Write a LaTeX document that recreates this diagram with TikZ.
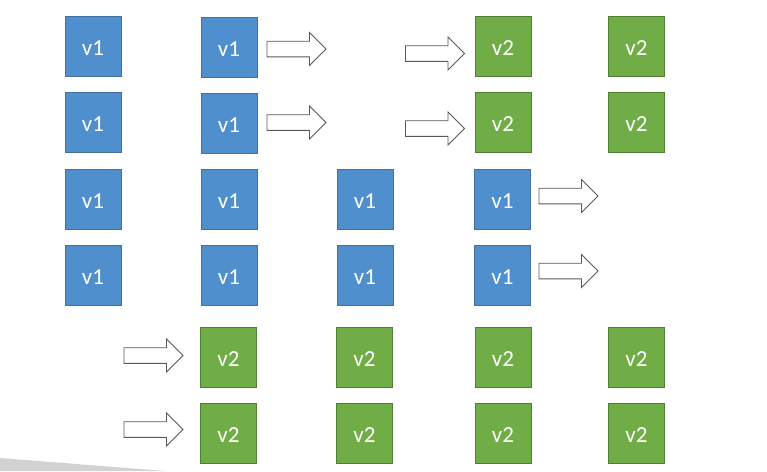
\documentclass[tikz,border=0pt]{standalone}
\usepackage{fontspec}
\setmainfont{Carlito}
\definecolor{bluefill}{HTML}{4F8FCE}
\definecolor{blueline}{HTML}{41719C}
\definecolor{greenfill}{HTML}{70AD47}
\definecolor{greenline}{HTML}{507E32}
\definecolor{arrline}{HTML}{595959}
\tikzset{
  vbox/.style={minimum width=56pt, minimum height=60pt, inner sep=0pt, line width=1pt,
    text=white, font=\fontsize{23}{25}\selectfont, text height=18.5pt, text depth=0pt},
  vone/.style={vbox, draw=blueline, fill=bluefill},
  vtwo/.style={vbox, draw=greenline, fill=greenfill},
  arrowline/.style={draw=arrline, fill=white, line width=0.9pt, line join=miter},
  barrow/.pic={\draw[arrowline] (0,-7.8) -- (42.5,-7.8) -- (42.5,-16.5) -- (59,0) -- (42.5,16.5) -- (42.5,7.8) -- (0,7.8) -- cycle;}
}
\begin{document}
\begin{tikzpicture}[x=1pt,y=-1pt]
\useasboundingbox (0,0) rectangle (767,471);
\fill[white] (0,0) rectangle (767,471);
% gray wedge bottom-left
\fill[gray!35] (0,458) -- (165,471) -- (0,471) -- cycle;
% row 1
\node[vone] (r1c1) at (93,46) {v1};
\node[vone] (r1c2) at (229,47) {v1};
\node[vtwo] (r1c4) at (503,46) {v2};
\node[vtwo] (r1c5) at (636.5,46) {v2};
% row 2
\node[vone] (r2c1) at (93,122) {v1};
\node[vone] (r2c2) at (229,123.5) {v1};
\node[vtwo] (r2c4) at (503,122) {v2};
\node[vtwo] (r2c5) at (636.5,122) {v2};
% row 3
\node[vone] (r3c1) at (93,199) {v1};
\node[vone] (r3c2) at (229,199) {v1};
\node[vone] (r3c3) at (365,199) {v1};
\node[vone] (r3c4) at (502.5,199) {v1};
% row 4
\node[vone] (r4c1) at (93,275) {v1};
\node[vone] (r4c2) at (229,275) {v1};
\node[vone] (r4c3) at (365,275) {v1};
\node[vone] (r4c4) at (502.5,275) {v1};
% row 5
\node[vtwo] (r5c2) at (228.5,357) {v2};
\node[vtwo] (r5c3) at (364.5,357) {v2};
\node[vtwo] (r5c4) at (503,357) {v2};
\node[vtwo] (r5c5) at (636.5,357) {v2};
% row 6
\node[vtwo] (r6c2) at (228.5,433) {v2};
\node[vtwo] (r6c3) at (364.5,433) {v2};
\node[vtwo] (r6c4) at (503,433) {v2};
\node[vtwo] (r6c5) at (636.5,433) {v2};
% block arrows
\pic at (267,49) {barrow};
\pic at (267,122.5) {barrow};
\pic at (405.5,53.5) {barrow};
\pic at (405.5,128.5) {barrow};
\pic at (539,196) {barrow};
\pic at (539,271) {barrow};
\pic at (124,355.5) {barrow};
\pic at (124,429.5) {barrow};
\end{tikzpicture}
\end{document}
